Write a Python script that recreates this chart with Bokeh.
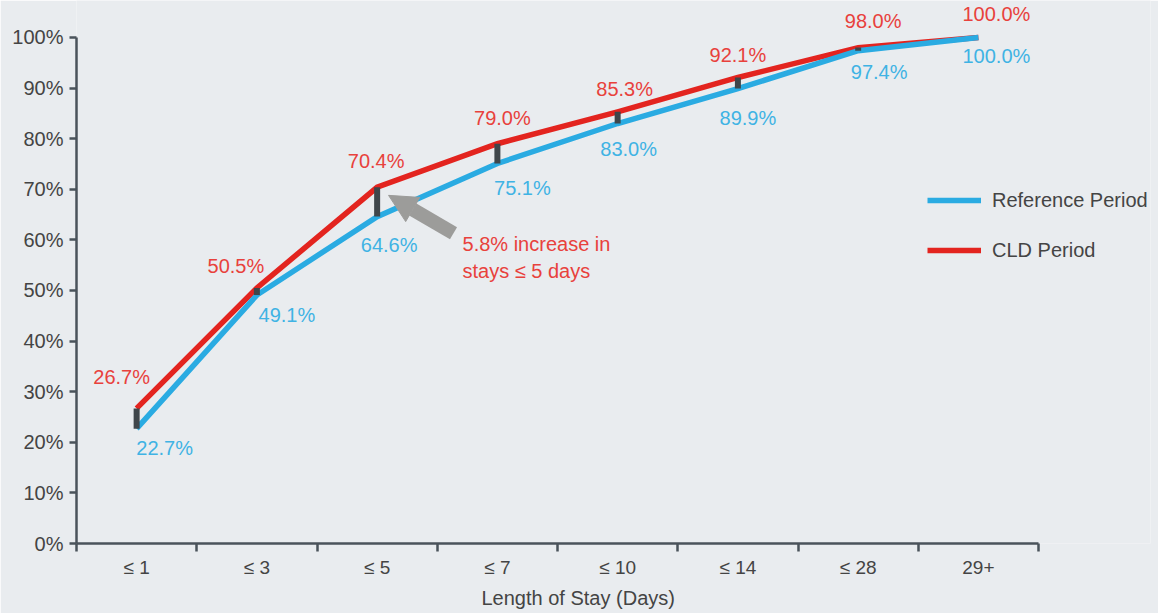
from bokeh.plotting import figure
from bokeh.models import (ColumnDataSource, Range1d, FixedTicker, LabelSet, Label,
                          Arrow, NormalHead, Legend, LegendItem, Title)
from bokeh.core.properties import value
from bokeh.embed import file_html
from bokeh.resources import INLINE

# ---------------- data ----------------
categories = ["≤ 1", "≤ 3", "≤ 5", "≤ 7", "≤ 10", "≤ 14", "≤ 28", "29+"]
reference_period = [22.7, 49.1, 64.6, 75.1, 83.0, 89.9, 97.4, 100.0]
cld_period = [26.7, 50.5, 70.4, 79.0, 85.3, 92.1, 98.0, 100.0]
y_ticks = [0, 10, 20, 30, 40, 50, 60, 70, 80, 90, 100]
y_tick_labels = [f"{t}%" for t in y_ticks]
series_names = ["Reference Period", "CLD Period"]
x_title = "Length of Stay (Days)"
callout_lines = ["5.8% increase in", "stays ≤ 5 days"]

# ---------------- style / layout ----------------
FONT = "Liberation Sans"
BG = "#e9ecef"
AXIS = "#4a535b"
TICK_TEXT = "#444444"
BLUE = "#2aabe2"
RED = "#e3241f"
BLUE_TEXT = "#3fb3e4"
RED_TEXT = "#e8413c"
CONNECT = "#3f464b"
ARROW = "#9c9c9a"

# label offsets in px (x right, y up)
cld_dx = [-15, -21, -1, 5, 7, 0, 15, 18]
cld_dy = [31, 22, 26, 26, 23, 22, 27, 23]
ref_dx = [28, 30, 12, 25, 11, 10, 21, 18]
ref_dy = [-19, -20, -28, -25, -25, -29, -21, -19]

n = len(categories)
xs = list(range(n))
src = ColumnDataSource(dict(
    x=xs, ref=reference_period, cld=cld_period,
    ref_text=[f"{v:.1f}%" for v in reference_period],
    cld_text=[f"{v:.1f}%" for v in cld_period],
    ref_dx=ref_dx, ref_dy=ref_dy, cld_dx=cld_dx, cld_dy=cld_dy,
))

# frame spans x 76..1150 and y 0..543; axes are bounded to the data extent
p = figure(width=1158, height=613,
           x_range=Range1d(-0.5, 8.431),
           y_range=Range1d(0, 107.31),
           output_backend="svg", toolbar_location=None,
           min_border_left=76, min_border_right=8,
           min_border_top=0, min_border_bottom=70)
p.background_fill_color = BG
p.border_fill_color = BG
p.outline_line_color = None
p.xgrid.visible = False
p.ygrid.visible = False

# x axis
xa = p.xaxis[0]
xa.ticker = FixedTicker(ticks=xs, minor_ticks=[i - 0.5 for i in range(n + 1)])
xa.major_label_overrides = {i: c for i, c in zip(xs, categories)}
xa.bounds = (-0.5, n - 0.5)
xa.axis_line_color = AXIS
xa.axis_line_width = 2.5
xa.major_tick_in = 0
xa.major_tick_out = 8
xa.major_tick_line_alpha = 0
xa.minor_tick_in = 0
xa.minor_tick_out = 8
xa.minor_tick_line_color = AXIS
xa.minor_tick_line_width = 2.5
xa.major_label_standoff = 5
xa.major_label_text_font = FONT
xa.major_label_text_font_size = "19px"
xa.major_label_text_color = TICK_TEXT

# y axis
ya = p.yaxis[0]
ya.ticker = FixedTicker(ticks=y_ticks)
ya.major_label_overrides = {t: l for t, l in zip(y_ticks, y_tick_labels)}
ya.bounds = (0, 100)
ya.axis_line_color = AXIS
ya.axis_line_width = 2.5
ya.major_tick_in = 0
ya.major_tick_out = 7
ya.major_tick_line_color = AXIS
ya.major_tick_line_width = 2.5
ya.minor_tick_line_color = None
ya.major_label_standoff = 6
ya.major_label_text_font = FONT
ya.major_label_text_font_size = "20px"
ya.major_label_text_color = TICK_TEXT

# x axis title (left-aligned offset, as in the original)
p.add_layout(Title(text=x_title, align="left", offset=405, standoff=9,
                   text_font=FONT, text_font_size="20px", text_font_style="normal",
                   text_color=TICK_TEXT), "below")

# lines
red_r = p.line("x", "cld", source=src, line_color=RED, line_width=5.5, line_join="miter")
blue_r = p.line("x", "ref", source=src, line_color=BLUE, line_width=5.5, line_join="miter")
p.segment(x0="x", y0="ref", x1="x", y1="cld", source=src,
          line_color=CONNECT, line_width=6, line_cap="butt")

# value labels
p.add_layout(LabelSet(x="x", y="cld", text="cld_text", source=src,
                      x_offset="cld_dx", y_offset="cld_dy",
                      text_align="center", text_baseline="middle",
                      text_font=value(FONT), text_font_size=value("20px"),
                      text_color=value(RED_TEXT)))
p.add_layout(LabelSet(x="x", y="ref", text="ref_text", source=src,
                      x_offset="ref_dx", y_offset="ref_dy",
                      text_align="center", text_baseline="middle",
                      text_font=value(FONT), text_font_size=value("20px"),
                      text_color=value(BLUE_TEXT)))

# callout arrow + text
p.add_layout(Arrow(x_start=2.635, y_start=61.3, x_end=2.095, y_end=68.8,
                   line_color=ARROW, line_width=14,
                   end=NormalHead(size=28, fill_color=ARROW, line_color=ARROW, line_width=1)))
p.add_layout(Label(x=2.71, y=59.1, text=callout_lines[0], text_align="left",
                   text_baseline="middle", text_font=FONT, text_font_size="20px",
                   text_color=RED_TEXT))
p.add_layout(Label(x=2.71, y=53.95, text=callout_lines[1], text_align="left",
                   text_baseline="middle", text_font=FONT, text_font_size="20px",
                   text_color=RED_TEXT))

# legend
legend = Legend(items=[LegendItem(label=series_names[0], renderers=[blue_r]),
                       LegendItem(label=series_names[1], renderers=[red_r])],
                location=(851, 281), orientation="vertical",
                glyph_width=54, glyph_height=20, label_height=24,
                label_standoff=11, spacing=26, padding=0, margin=0,
                background_fill_alpha=0, border_line_alpha=0,
                label_text_font=FONT, label_text_font_size="20px",
                label_text_color=TICK_TEXT)
p.add_layout(legend)

open("out.html", "w").write(file_html(p, INLINE))
